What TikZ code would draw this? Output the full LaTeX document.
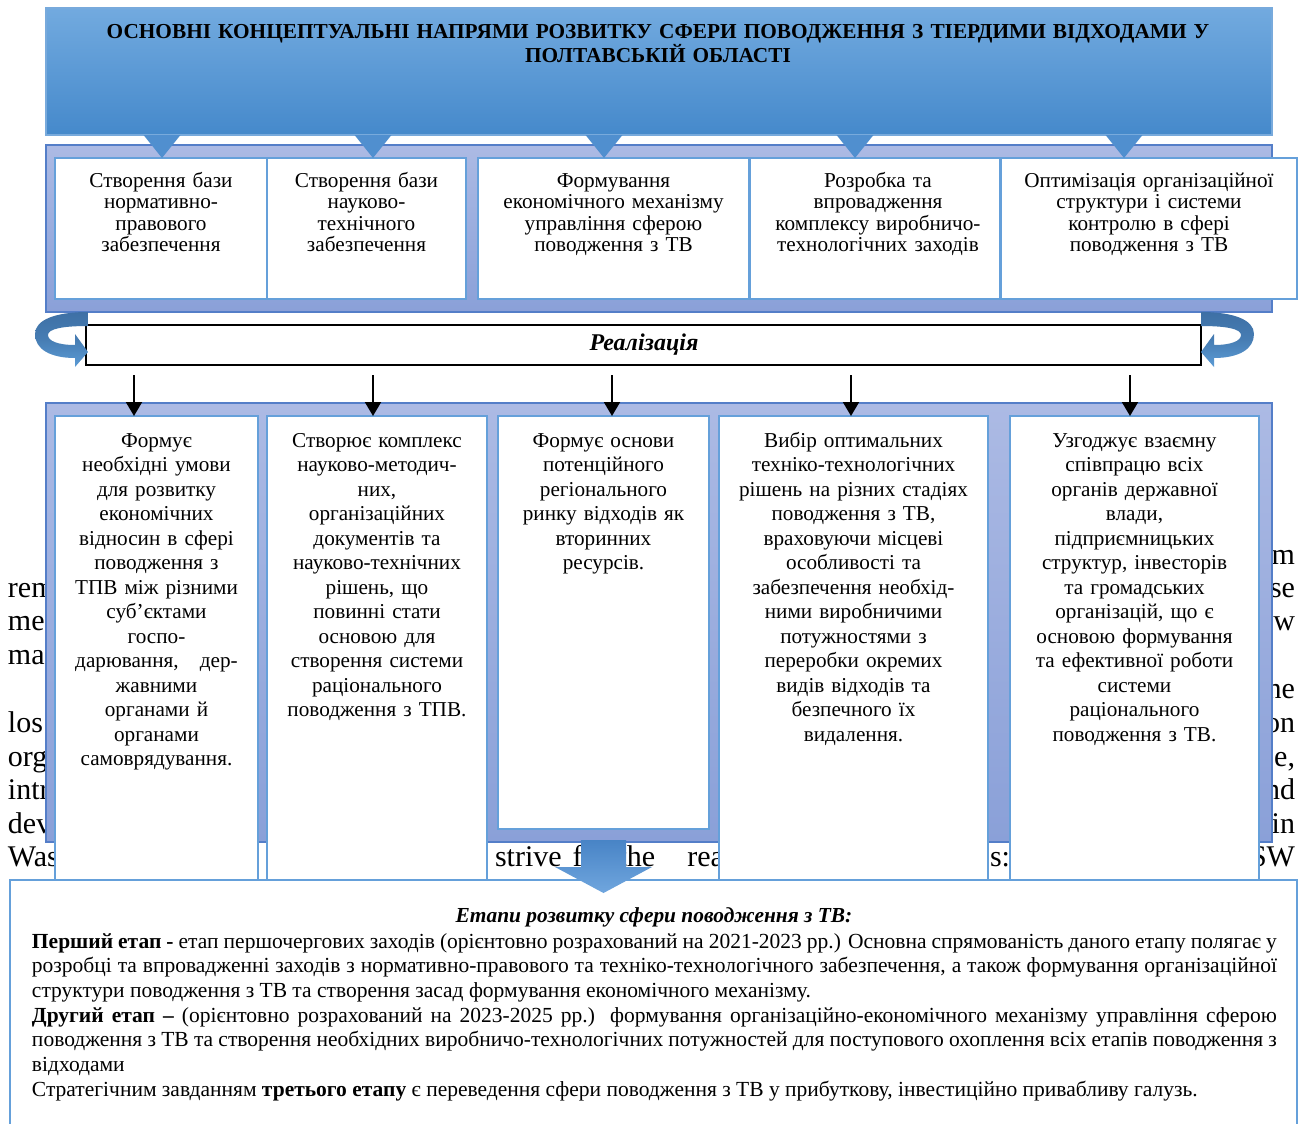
\documentclass[tikz,border=0pt]{standalone}
\usepackage{fontspec}
\setmainfont{Liberation Serif}
\usetikzlibrary{arrows.meta}
\definecolor{bannertop}{RGB}{114,170,223}
\definecolor{bannerbot}{RGB}{69,137,203}
\definecolor{bannerline}{RGB}{120,170,220}
\definecolor{lavtop}{RGB}{172,186,228}
\definecolor{lavbot}{RGB}{138,160,216}
\definecolor{frameline}{RGB}{84,126,200}
\definecolor{boxline}{RGB}{101,160,218}
\definecolor{darkarc}{RGB}{62,112,165}
\definecolor{lightarc}{RGB}{91,155,213}
\definecolor{tricol}{RGB}{80,143,207}
\definecolor{bigtop}{RGB}{72,132,198}
\definecolor{bigbot}{RGB}{112,166,222}
\begin{document}
\begin{tikzpicture}[x=0.5pt,y=-0.5pt,
 every node/.style={inner sep=0pt,outer sep=0pt},
 banner/.style={rectangle, draw=bannerline, line width=0.6pt, top color=bannertop, bottom color=bannerbot},
 lavframe/.style={rectangle, draw=frameline, line width=1pt, top color=lavtop, bottom color=lavbot},
 wbox/.style={rectangle, draw=boxline, line width=1pt, fill=white},
 wboxb/.style={rectangle, draw=boxline, line width=1.3pt, fill=white},
 toptext/.style={anchor=base, align=center, font=\fontsize{10.6}{10.75}\selectfont},
 bottext/.style={anchor=base, align=center, font=\fontsize{10.6}{12.25}\selectfont},
 bgtext/.style={anchor=base west, font=\fontsize{15}{18}\selectfont},
 bgtextr/.style={anchor=base east, font=\fontsize{15}{18}\selectfont},
 blkarrow/.style={draw=black, line width=1pt, -{Triangle[width=8pt,length=7pt]}},
]
\clip (0,0) rectangle (1303,1124);
\fill[white] (0,0) rectangle (1303,1124);

% stray page text behind the figure
\node[bgtext] (g1) at (8,597) {rem};
\node[bgtext] (g2) at (8,630) {me};
\node[bgtext] (g3) at (8,664) {ma};
\node[bgtext] (g4) at (8,732) {los};
\node[bgtext] (g5) at (8,766) {org};
\node[bgtext] (g6) at (8,799) {intr};
\node[bgtext] (g7) at (8,833) {dev};
\node[bgtext] (g8) at (8,866) {Was};
\node[bgtextr] (h1) at (1295,564) {m};
\node[bgtextr] (h2) at (1295,597) {se};
\node[bgtextr] (h3) at (1295,630) {w};
\node[bgtextr] (h4) at (1295,698) {he};
\node[bgtextr] (h5) at (1295,732) {on};
\node[bgtextr] (h6) at (1295,766) {e,};
\node[bgtextr] (h7) at (1295,799) {nd};
\node[bgtextr] (h8) at (1295,833) {in};
\node[bgtextr] (h9) at (1295,866) {SW};
\node[bgtext] (m1) at (495,866) {strive\hspace{5.5pt}for\hspace{5.5pt}the\hspace{16pt}reali};
\node[bgtext] (m2) at (990,866) {s:};

% title banner
\node[banner, minimum width=613pt, minimum height=63.5pt] (ban) at (659,71.5) {};
\node[anchor=base, align=center, text width=640pt, font=\bfseries\fontsize{10.65}{12}\selectfont] (title) at (658,39)
 {ОСНОВНІ КОНЦЕПТУАЛЬНІ НАПРЯМИ РОЗВИТКУ СФЕРИ ПОВОДЖЕННЯ З ТІЕРДИМИ ВІДХОДАМИ У\\ПОЛТАВСЬКІЙ ОБЛАСТІ};

% upper frame and boxes
\node[lavframe, minimum width=613pt, minimum height=83.5pt] (f1) at (659,228.5) {};
\node[wbox, minimum width=106pt, minimum height=70.5pt] (t1) at (161,228.5) {};
\node[wbox, minimum width=99.5pt, minimum height=70.5pt] (t2) at (366.5,228.5) {};
\node[wbox, minimum width=135.5pt, minimum height=70.5pt] (t3) at (613.5,228.5) {};
\node[wbox, minimum width=125pt, minimum height=70.5pt] (t4) at (875,228.5) {};
\node[wbox, minimum width=148pt, minimum height=70.5pt] (t5) at (1149,228.5) {};
\foreach \cx in {162,373,604,855,1124}{
  \fill[tricol] (\cx-18.5,135) -- (\cx+18.5,135) -- (\cx,158) -- cycle;
}
\node[toptext, text width=100pt] (t1t) at (161,187) {Створення бази\\нормативно-\\правового\\забезпечення};
\node[toptext, text width=95pt] (t2t) at (366.5,187) {Створення бази\\науково-\\технічного\\забезпечення};
\node[toptext, text width=132pt] (t3t) at (613.5,187) {Формування\\економічного механізму\\управління сферою\\поводження з ТВ};
\node[toptext, text width=122pt] (t4t) at (878,187) {Розробка та\\впровадження\\комплексу виробничо-\\технологічних заходів};
\node[toptext, text width=145pt] (t5t) at (1149,187) {Оптимізація організаційної\\структури і системи\\контролю в сфері\\поводження з ТВ};

% realisation box
\node[draw=black, line width=1.2pt, fill=white, minimum width=557.5pt, minimum height=20pt] (real) at (643.5,345) {};
\node[anchor=base, font=\bfseries\itshape\fontsize{12}{12}\selectfont] (realt) at (644,350) {Реалізація};

% curved arrows at both ends
\path[top color=darkarc, bottom color=lightarc, middle color=darkarc!70!lightarc]
 (88,312) .. controls (55,312) and (35,320) .. (35,334) .. controls (35,349) and (50,358) .. (75,358)
 -- (75,367) -- (88,352) -- (75,334) -- (75,345)
 .. controls (58,345) and (48,341) .. (48,335) .. controls (48,329) and (62,326) .. (88,326) -- cycle;
\path[top color=darkarc, bottom color=lightarc, middle color=darkarc!70!lightarc]
 (1201,312) .. controls (1234,312) and (1254,320) .. (1254,334) .. controls (1254,349) and (1239,358) .. (1214,358)
 -- (1214,367) -- (1201,352) -- (1214,334) -- (1214,345)
 .. controls (1231,345) and (1241,341) .. (1241,335) .. controls (1241,329) and (1227,326) .. (1201,326) -- cycle;

% lower frame and boxes
\node[lavframe, minimum width=613pt, minimum height=219.5pt] (f2) at (659,622.5) {};
\node[wboxb, minimum width=101.5pt, minimum height=232pt] (b1) at (156.5,648) {};
\node[wboxb, minimum width=110pt, minimum height=232pt] (b2) at (377,648) {};
\node[wboxb, minimum width=105.5pt, minimum height=206.5pt] (b3) at (603.5,622.5) {};
\node[wboxb, minimum width=134.5pt, minimum height=232pt] (b4) at (853.5,648) {};
\node[wboxb, minimum width=124.5pt, minimum height=232pt] (b5) at (1134.5,648) {};

\coordinate (a1) at (134,375);
\coordinate (a2) at (373,375);
\coordinate (a3) at (612,375);
\coordinate (a4) at (851,375);
\coordinate (a5) at (1130,375);
\draw[blkarrow] (a1) -- (a1 |- b1.north);
\draw[blkarrow] (a2) -- (a2 |- b2.north);
\draw[blkarrow] (a3) -- (a3 |- b3.north);
\draw[blkarrow] (a4) -- (a4 |- b4.north);
\draw[blkarrow] (a5) -- (a5 |- b5.north);

\node[bottext, text width=98pt] (b1t) at (156.5,447) {Формує\\необхідні умови\\для розвитку\\економічних\\відносин в сфері\\поводження з\\ТПВ між різними\\суб’єктами\\госпо-\\дарювання,\ \ \ дер-\\жавними\\органами й\\органами\\самоврядування.};
\node[bottext, text width=106pt] (b2t) at (377,447) {Створює комплекс\\науково-методич-\\них,\\організаційних\\документів та\\науково-технічних\\рішень, що\\повинні стати\\основою для\\створення системи\\раціонального\\поводження з ТПВ.};
\node[bottext, text width=102pt] (b3t) at (603.5,447) {Формує основи\\потенційного\\регіонального\\ринку відходів як\\вторинних\\ресурсів.};
\node[bottext, text width=130pt] (b4t) at (853.5,447) {Вибір оптимальних\\техніко-технологічних\\рішень на різних стадіях\\поводження з ТВ,\\враховуючи місцеві\\особливості та\\забезпечення необхід-\\ними виробничими\\потужностями з\\переробки окремих\\видів відходів та\\безпечного їх\\видалення.};
\node[bottext, text width=121pt] (b5t) at (1134.5,447) {Узгоджує взаємну\\співпрацю всіх\\органів державної\\влади,\\підприємницьких\\структур, інвесторів\\та громадських\\організацій, що є\\основою формування\\та ефективної роботи\\системи\\раціонального\\поводження з ТВ.};

% bottom text box
\node[draw=boxline, line width=1pt, fill=white, minimum width=643.5pt, minimum height=135pt] (stages) at (653.5,1015) {};
\node[anchor=base, font=\bfseries\itshape\fontsize{10.7}{12}\selectfont] (stagesh) at (654,922) {Етапи розвитку сфери поводження з ТВ:};
\node[anchor=base west] (stagest) at (32,948) {\begin{minipage}[t]{622.5pt}\fontsize{10.75}{12.35}\selectfont\hyphenpenalty=10000\exhyphenpenalty=10000\parindent=0pt
\textbf{Перший етап -} етап першочергових заходів (орієнтовно розрахований на 2021-2023 рр.) Основна спрямованість даного етапу полягає у\linebreak
розробці та впровадженні заходів з нормативно-правового та техніко-технологічного забезпечення, а також формування організаційної\linebreak
структури поводження з ТВ та створення засад формування економічного механізму.\par
\textbf{Другий етап –} (орієнтовно розрахований на 2023-2025 рр.) формування організаційно-економічного механізму управління сферою\linebreak
поводження з ТВ та створення необхідних виробничо-технологічних потужностей для поступового охоплення всіх етапів поводження з\linebreak
відходами\par
Стратегічним завданням \textbf{третього етапу} є переведення сфери поводження з ТВ у прибуткову, інвестиційно привабливу галузь.
\end{minipage}};

% big block arrow from lower frame to the stages box
\path[top color=bigtop, bottom color=bigbot]
 (581,840) -- (626,840) -- (626,867) -- (652,867) -- (603.5,893) -- (555,867) -- (581,867) -- cycle;
\end{tikzpicture}
\end{document}
